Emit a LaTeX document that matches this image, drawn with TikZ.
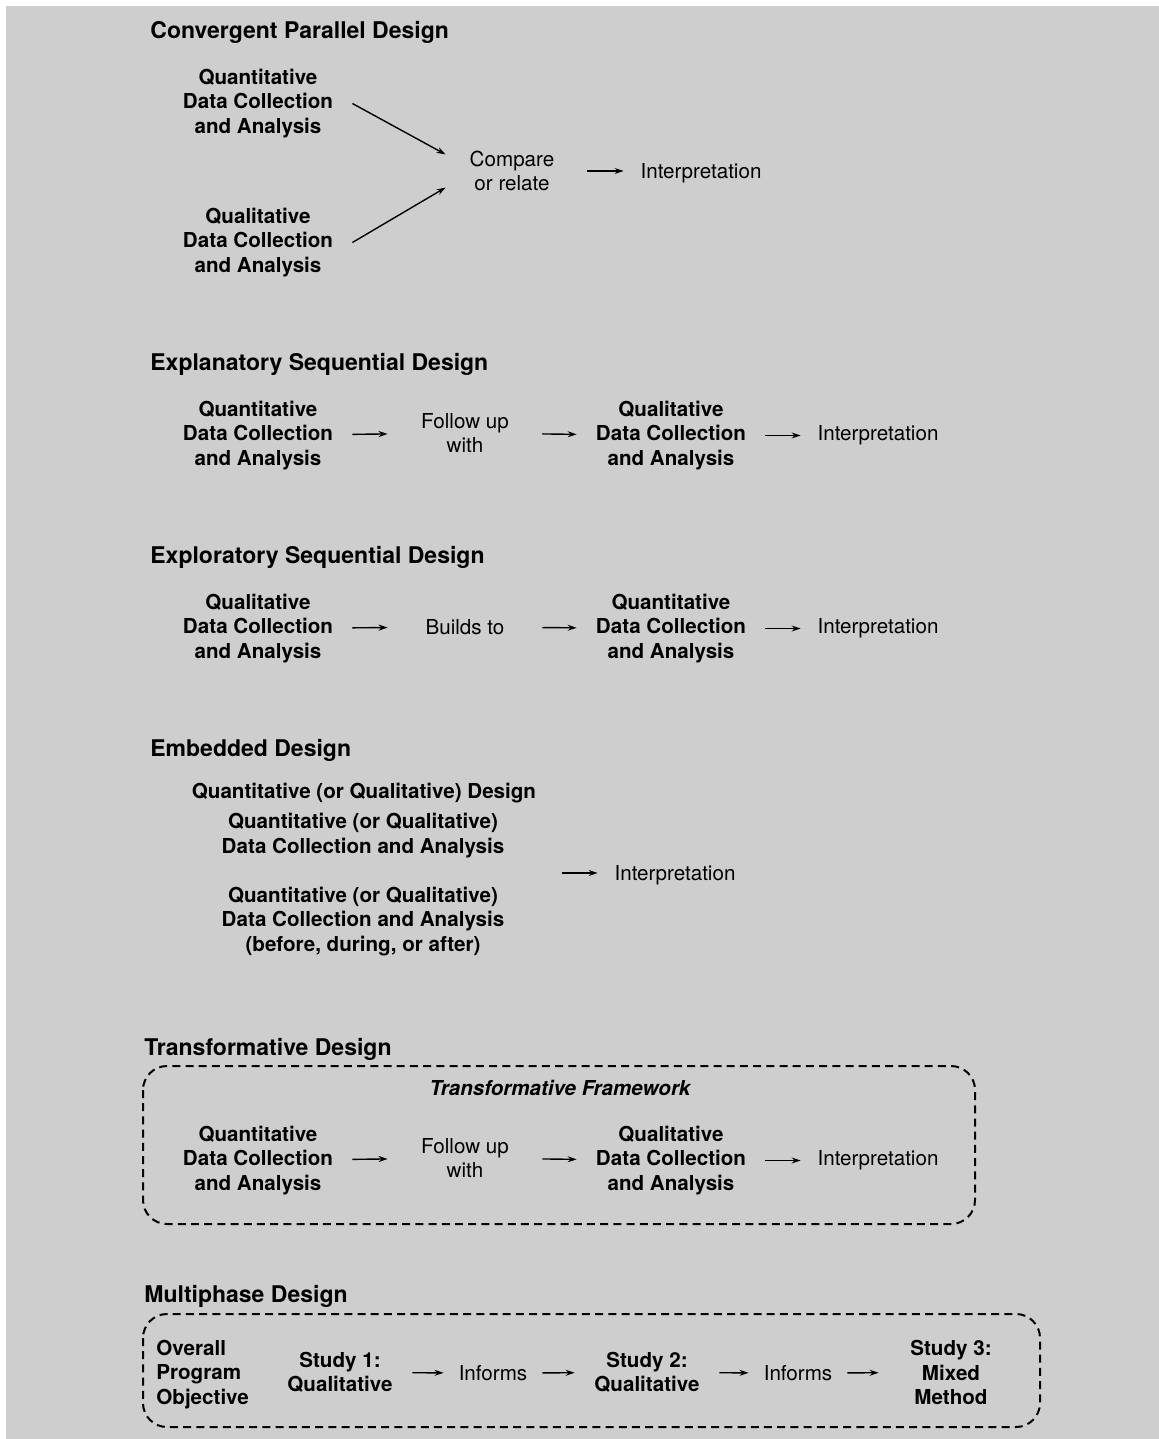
\documentclass[tikz,border=0pt]{standalone}
\usepackage{fontspec}
\setmainfont{TeX Gyre Heros}
\usetikzlibrary{arrows.meta}
\definecolor{bg}{HTML}{CECECE}

\begin{document}
\begin{tikzpicture}[x=0.5pt,y=-0.5pt,
  every node/.style={inner sep=0pt,align=center,font=\fontsize{10.3}{12.25}\selectfont},
  head/.style={anchor=base west,font=\fontsize{11.5}{13.8}\selectfont\bfseries},
  bt/.style={font=\fontsize{10.3}{12.25}\selectfont\bfseries},
  dc/.style={bt,minimum width=94pt},
  mid/.style={minimum width=77pt},
  arr/.style={-{Stealth[length=4.5pt,width=3pt]},line width=0.7pt},
  frame/.style={dash pattern=on 4pt off 2.6pt,line width=1pt,rounded corners=12pt}]
\path[use as bounding box] (0,0) rectangle (1159,1439);
\fill[bg] (6,6) rectangle (1159,1439);

\node[head] (h1) at (150,39) {Convergent Parallel Design};
\node[dc] (qn1) at (258,103.5) {Quantitative\\Data Collection\\and Analysis};
\node[dc] (ql1) at (258,242.5) {Qualitative\\Data Collection\\and Analysis};
\node[minimum width=66pt] (cmp) at (512,171) {Compare\\or relate};
\node[mid] (int1) at (701,173) {Interpretation};
\draw[arr] (qn1.east) -- (cmp.166);
\draw[arr] (ql1.east) -- (cmp.194);
\draw[arr,shorten <=4.5pt] (cmp.east) -- (int1.west |- cmp.east);

\node[head] (h2) at (150,370) {Explanatory Sequential Design};
\node[dc] (qn2) at (258,435.5) {Quantitative\\Data Collection\\and Analysis};
\node[mid] (fu2) at (465,433) {Follow up\\with};
\node[dc] (ql2) at (671,435.5) {Qualitative\\Data Collection\\and Analysis};
\node[mid] (int2) at (878,435.5) {Interpretation};
\draw[arr] (qn2) -- (fu2);
\draw[arr] (fu2) -- (ql2);
\draw[arr] (ql2) -- (int2);

\node[head] (h3) at (150,563) {Exploratory Sequential Design};
\node[dc] (ql3) at (258,628.5) {Qualitative\\Data Collection\\and Analysis};
\node[mid] (bt3) at (465,627) {Builds to};
\node[dc] (qn3) at (671,628.5) {Quantitative\\Data Collection\\and Analysis};
\node[mid] (int3) at (878,628.5) {Interpretation};
\draw[arr] (ql3) -- (bt3);
\draw[arr] (bt3) -- (qn3);
\draw[arr] (qn3) -- (int3);

\node[head] (h4) at (150,756) {Embedded Design};
\node[bt] (emb) at (364,793.5) {Quantitative (or Qualitative) Design};
\node[bt] (emb1) at (363,835.5) {Quantitative (or Qualitative)\\Data Collection and Analysis};
\node[bt] (emb2) at (363,921.5) {Quantitative (or Qualitative)\\Data Collection and Analysis\\(before, during, or after)};
\coordinate (embout) at (562,873);
\node[mid] (int4) at (675,875.5) {Interpretation};
\draw[arr] (embout) -- (embout -| int4.west);

\node[head] (h5) at (144,1055) {Transformative Design};
\draw[frame] (143,1066) rectangle (975,1224);
\node[font=\fontsize{10.3}{12.25}\selectfont\bfseries\itshape] (tf) at (560,1087.5) {Transformative Framework};
\node[dc] (qn5) at (258,1160.5) {Quantitative\\Data Collection\\and Analysis};
\node[mid] (fu5) at (465,1158) {Follow up\\with};
\node[dc] (ql5) at (671,1160.5) {Qualitative\\Data Collection\\and Analysis};
\node[mid] (int5) at (878,1160.5) {Interpretation};
\draw[arr] (qn5) -- (fu5);
\draw[arr] (fu5) -- (ql5);
\draw[arr] (ql5) -- (int5);

\node[head] (h6) at (144,1302) {Multiphase Design};
\draw[frame] (143,1314) rectangle (1040,1427);
\node[bt,anchor=west,align=left] (obj) at (156,1374.5) {Overall\\Program\\Objective};
\node[bt,minimum width=72pt] (st1) at (340,1372.5) {Study 1:\\Qualitative};
\node[minimum width=49pt] (inf1) at (493,1373) {Informs};
\node[bt,minimum width=72pt] (st2) at (647,1372.5) {Study 2:\\Qualitative};
\node[minimum width=49pt] (inf2) at (798,1373) {Informs};
\node[bt,minimum width=72pt] (st3) at (951,1372.5) {Study 3:\\Mixed\\Method};
\draw[arr] (st1) -- (inf1);
\draw[arr] (inf1) -- (st2);
\draw[arr] (st2) -- (inf2);
\draw[arr] (inf2) -- (st3);
\end{tikzpicture}
\end{document}
